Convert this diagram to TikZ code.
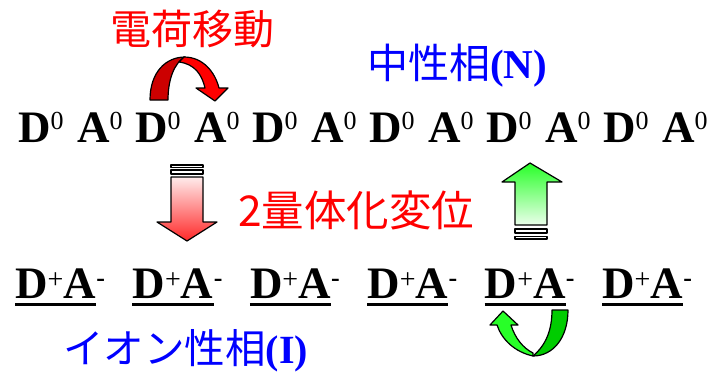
\documentclass[tikz,border=0pt]{standalone}
\usepackage{fontspec}
\setmainfont{Liberation Serif}
\newfontfamily\jp{Noto Sans CJK JP}
\newcommand\supz{\raisebox{13pt}{\fontsize{26}{26}\selectfont\mdseries 0}}
\newcommand\supp{\raisebox{10pt}{\fontsize{28}{28}\selectfont\mdseries +}}
\newcommand\supm{\raisebox{12pt}{\fontsize{26}{26}\selectfont\bfseries -}}
\definecolor{dred}{RGB}{204,0,0}
\definecolor{bred}{RGB}{255,0,0}
\definecolor{dgreen}{RGB}{0,204,0}
\definecolor{bgreen}{RGB}{40,255,40}
\begin{document}
\begin{tikzpicture}[x=1pt,y=1pt]
\tikzset{
  mol/.style={inner sep=0pt, anchor=base west, font=\fontsize{45}{45}\selectfont\bfseries},
  jplabel/.style={inner sep=0pt, anchor=base west, font=\fontsize{41}{41}\selectfont\jp},
  outl/.style={draw=black, line width=1.2pt, line join=round},
  uline/.style={line width=3pt},
}
\useasboundingbox (0,0) rectangle (715,-373);

% labels
\node[jplabel, text=red] (ct) at (110,-44) {電荷移動};
\node[jplabel, text=blue] (np) at (367,-78) {中性相{\rmfamily\bfseries\fontsize{41}{41}\selectfont (N)}};
\node[jplabel, text=red, font=\fontsize{42.5}{42.5}\selectfont\jp] (dv) at (238,-226) {2量体化変位};
\node[jplabel, text=blue, font=\fontsize{40.5}{40.5}\selectfont\jp] (ip) at (63,-363) {イオン性相{\rmfamily\bfseries\fontsize{40}{40}\selectfont (I)}};

% neutral row
\foreach \k in {0,...,5}{
  \node[mol] (d\k) at ({18+117*\k},-142) {D\supz};
  \node[mol] (a\k) at ({77+117*\k},-142) {A\supz};
}
% ionic row
\foreach \k in {0,...,5}{
  \node[mol] (p\k) at ({15+117.4*\k},-298) {D\supp A};
  \node[mol] (m\k) at (p\k.base east) {\supm};
  \draw[uline] ([yshift=-6pt]p\k.base west) -- ([yshift=-6pt]p\k.base east);
}

% red curved arrow (charge transfer)
\draw[outl, fill=dred] (150,-100) .. controls (150,-72) and (166,-57) .. (185,-57)
   .. controls (174,-63) and (168,-80) .. (168,-100) -- cycle;
\draw[outl, fill=bred] (184,-57) .. controls (203,-57) and (215,-72) .. (219,-88)
   -- (228,-88) -- (215,-101) -- (196,-88) -- (205,-88)
   .. controls (202,-75) and (195,-64) .. (179,-62) -- cycle;

% red down arrow
\draw[outl, fill=white] (171,-165) rectangle (203,-167.5);
\draw[outl, fill=white] (171,-170) rectangle (203,-174);
\shade[top color={rgb,255:red,255;green,235;blue,235}, bottom color={rgb,255:red,255;green,40;blue,40}, outl]
  (171,-177) -- (203,-177) -- (203,-222) -- (217,-222) -- (187,-241) -- (157,-222) -- (171,-222) -- cycle;

% green up arrow
\shade[top color=bgreen, bottom color={rgb,255:red,235;green,255;blue,235}, outl]
  (530,-163) -- (562,-182) -- (547,-182) -- (547,-225) -- (515,-225) -- (515,-182) -- (502,-182) -- cycle;
\draw[outl, fill=white] (515,-229) rectangle (547,-233);
\draw[outl, fill=white] (515,-236.5) rectangle (547,-239);

% green curved arrow
\draw[outl, fill=bgreen] (533,-356) .. controls (515,-352) and (502,-340) .. (497,-325)
   -- (490,-325) -- (503,-311) -- (518,-325) -- (511,-325)
   .. controls (515,-338) and (523,-348) .. (533,-353) -- cycle;
\draw[outl, fill=dgreen] (552,-310) -- (568,-310) .. controls (568,-338) and (553,-356) .. (533,-356)
   .. controls (546,-345) and (552,-330) .. (552,-310) -- cycle;
\end{tikzpicture}
\end{document}
